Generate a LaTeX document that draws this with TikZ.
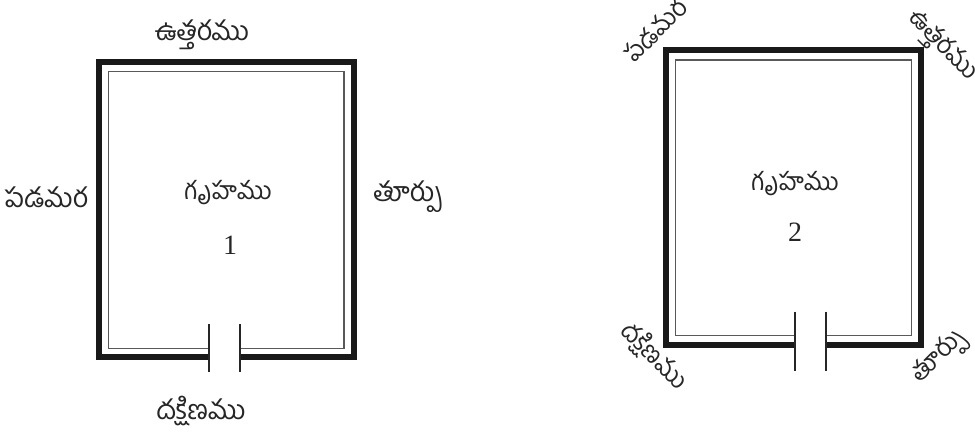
\documentclass[tikz,border=0pt]{standalone}
\usepackage{fontspec}
\newfontfamily\telugufont[Script=Telugu]{Hind Guntur}
\newfontfamily\numfont{Liberation Serif}
\usetikzlibrary{positioning}
\tikzset{
    wallouter/.style={line width=6pt, draw=black!90, miter limit=10},
    wallinner/.style={line width=1.3pt, draw=black!65},
    doorbar/.style={line width=2pt, draw=black!85},
    label/.style={inner sep=0pt, font=\telugufont\fontsize{27}{29}\selectfont, text=black!85},
    turned/.style={inner sep=0pt, font=\telugufont\fontsize{25}{27}\selectfont, text=black!85},
    housename/.style={inner sep=0pt, font=\telugufont\fontsize{25}{27}\selectfont, text=black!85},
    housenum/.style={inner sep=0pt, font=\numfont\fontsize{28}{30}\selectfont, text=black!85}
}
\begin{document}
\begin{tikzpicture}[x=1pt, y=-1pt]
    \useasboundingbox (0,0) rectangle (975,435);

    % House 1
    \draw[wallouter] (209,357.5) -- (99,357.5) -- (99,62.3) -- (353.7,62.3) -- (353.7,357.5) -- (240,357.5);
    \draw[wallinner] (209,348.3) -- (108.7,348.3) -- (108.7,71.7) -- (344,71.7) -- (344,348.3) -- (240,348.3);
    \draw[doorbar] (209.3,324) -- (209.3,371.7);
    \draw[doorbar] (239.7,324) -- (239.7,371.7);
    \node[label] (north1) at (202,35) {ఉత్తరము};
    \node[label] (west1) at (46,197) {పడమర};
    \node[label] (east1) at (408,197) {తూర్పు};
    \node[label] (south1) at (201,411) {దక్షిణము};
    \node[housename] (name1) at (228,193) {గృహము};
    \node[housenum] (num1) at (230,245) {1};

    % House 2
    \draw[wallouter] (795,345.3) -- (666,345.3) -- (666,50.3) -- (921,50.3) -- (921,345.3) -- (826,345.3);
    \draw[wallinner] (795,335.3) -- (675.7,335.3) -- (675.7,60) -- (911.3,60) -- (911.3,335.3) -- (826,335.3);
    \draw[doorbar] (795.3,311.7) -- (795.3,371);
    \draw[doorbar] (825.7,311.7) -- (825.7,371);
    \node[turned, rotate=45] (west2) at (655,30) {పడమర};
    \node[turned, rotate=-45] (north2) at (942,46) {ఉత్తరము};
    \node[turned, rotate=-45] (south2) at (654,356) {దక్షిణము};
    \node[turned, rotate=45] (east2) at (940,358) {తూర్పు};
    \node[housename] (name2) at (795,184) {గృహము};
    \node[housenum] (num2) at (795,232) {2};
\end{tikzpicture}
\end{document}
